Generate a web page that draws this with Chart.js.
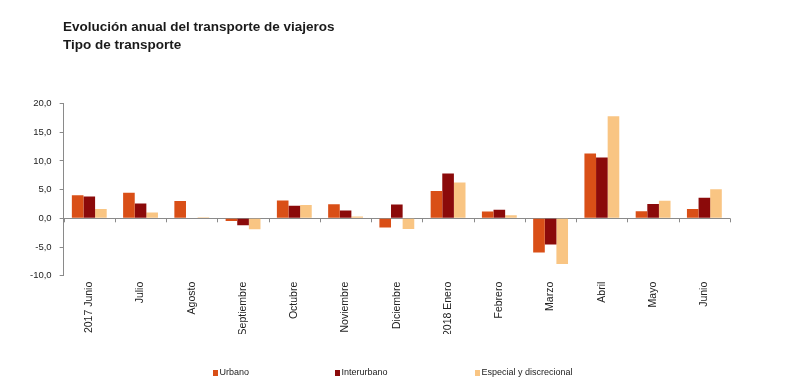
<!DOCTYPE html>
<html>
<head>
<meta charset="utf-8">
<script src="https://cdn.jsdelivr.net/npm/chart.js@4/dist/chart.umd.min.js"></script>
<style>
  html, body { margin: 0; padding: 0; background: #fff; }
  #wrap { width: 790px; height: 386px; position: relative; }
</style>
</head>
<body>
<div id="wrap"><canvas id="grafica_transporte"></canvas></div>
<script>
// Datos (tasa anual, %)
const meses = ['2017 Junio', 'Julio', 'Agosto', 'Septiembre', 'Octubre', 'Noviembre', 'Diciembre',
               '2018 Enero', 'Febrero', 'Marzo', 'Abril', 'Mayo', 'Junio'];
const urbano = [4.0, 4.45, 3.0, -0.45, 3.1, 2.45, -1.6, 4.75, 1.2, -5.95, 11.3, 1.25, 1.6];
const interurbano = [3.8, 2.6, 0.0, -1.2, 2.2, 1.35, 2.4, 7.8, 1.5, -4.55, 10.6, 2.5, 3.6];
const especial = [1.6, 1.0, 0.2, -1.9, 2.3, 0.3, -1.85, 6.25, 0.55, -7.95, 17.8, 3.05, 5.05];
const titulo = ['Evolución anual del transporte de viajeros', 'Tipo de transporte'];

const fuente = '"Liberation Sans", Arial, sans-serif';
const gris = '#8a8a8a';

// titulo arriba a la izquierda
const tituloPlugin = {
    id: 'tituloPlugin',
    afterDraw(chart) {
        const c = chart.ctx;
        c.save();
        c.fillStyle = '#1a1a1a';
        c.font = 'bold 13.5px ' + fuente;
        c.textBaseline = 'middle';
        c.fillText(titulo[0], 63, 27.5);
        c.fillText(titulo[1], 63, 45);
        c.restore();
    }
};

// marcas de separacion de categorias sobre la linea del cero
const marcasCero = {
    id: 'marcasCero',
    afterDatasetsDraw(chart) {
        const x = chart.scales.x, y = chart.scales.y;
        const y0 = y.getPixelForValue(0);
        const paso = x.getPixelForValue(1) - x.getPixelForValue(0);
        const c = chart.ctx;
        c.save();
        c.strokeStyle = gris;
        c.lineWidth = 1;
        c.beginPath();
        for (let i = 0; i <= meses.length; i++) {
            const px = Math.round(x.getPixelForValue(0) - paso / 2 + i * paso) + 0.5;
            c.moveTo(px, y0);
            c.lineTo(px, y0 + 4);
        }
        c.stroke();
        c.restore();
    }
};

// leyenda abajo, con los huecos anchos del original
const leyenda = {
    id: 'leyenda',
    afterDraw(chart) {
        const posiciones = [213, 335, 475];
        const c = chart.ctx;
        c.save();
        c.font = '9px ' + fuente;
        c.textBaseline = 'middle';
        chart.data.datasets.forEach((ds, i) => {
            const px = posiciones[i], py = 373;
            c.fillStyle = ds.backgroundColor;
            c.fillRect(px, py - 3, 5, 6);
            c.fillStyle = '#222';
            c.fillText(ds.label, px + 6.5, py);
        });
        c.restore();
    }
};

var ctx = document.getElementById('grafica_transporte').getContext('2d');
var chart = new Chart(ctx, {
    type: 'bar',
    data: {
        labels: meses,
        datasets: [
            { label: 'Urbano', data: urbano, backgroundColor: '#d94f17' },
            { label: 'Interurbano', data: interurbano, backgroundColor: '#8b0a0a' },
            { label: 'Especial y discrecional', data: especial, backgroundColor: '#f9c583' }
        ]
    },
    options: {
        responsive: true,
        maintainAspectRatio: false,
        animation: false,
        layout: { padding: { top: 103.5, right: 60, bottom: 52, left: 22 } },
        datasets: {
            bar: { barPercentage: 1.0, categoryPercentage: 0.68 }
        },
        plugins: {
            legend: { display: false },
            title: { display: false },
            tooltip: { enabled: false }
        },
        scales: {
            x: {
                grid: { display: false },
                border: { display: false },
                ticks: {
                    color: '#222',
                    font: { family: fuente, size: 10.5 },
                    maxRotation: 90,
                    minRotation: 90,
                    autoSkip: false,
                    padding: -2
                }
            },
            y: {
                min: -10,
                max: 20,
                border: { display: true, color: gris },
                grid: {
                    color: (c) => c.tick && c.tick.value === 0 ? gris : 'transparent',
                    tickColor: gris,
                    tickLength: 4,
                    drawTicks: true
                },
                ticks: {
                    stepSize: 5,
                    color: '#222',
                    padding: 8,
                    font: { family: fuente, size: 9.5 },
                    callback: (v) => v.toFixed(1).replace('.', ',')
                }
            }
        }
    },
    plugins: [tituloPlugin, marcasCero, leyenda]
});
</script>
</body>
</html>
